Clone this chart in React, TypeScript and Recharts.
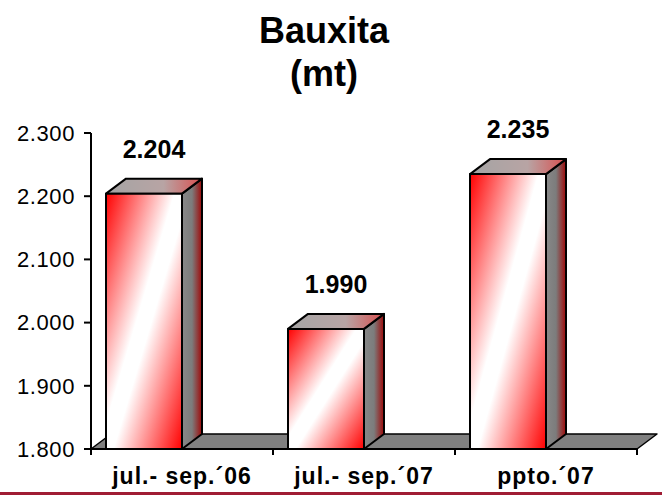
import React from 'react'
import { BarChart, Bar, XAxis, YAxis, usePlotArea } from 'recharts'

const categories = ['jul.- sep.´06', 'jul.- sep.´07', 'ppto.´07']
const values = [2204, 1990, 2235]
const yTicks = [1800, 1900, 2000, 2100, 2200, 2300]

const data = categories.map((name, i) => ({ name, value: values[i] }))

// 3d depth of the boxes
const DX = 20
const DY = 15
const FONT = '"Liberation Sans", Arial, sans-serif'

const fmt = (v: number) => (v / 1000).toFixed(3)

function Floor() {
  const plot = usePlotArea()
  if (!plot) return null
  const { x, y, width, height } = plot
  const b = y + height
  const r = x + width
  const band = width / categories.length
  return (
    <g>
      <defs>
        <linearGradient id="front" x1="0" y1="0" x2="1" y2="1">
          <stop offset="0" stopColor="#ff0000" />
          <stop offset="0.45" stopColor="#ffffff" />
          <stop offset="0.55" stopColor="#ffffff" />
          <stop offset="1" stopColor="#ff0000" />
        </linearGradient>
        <linearGradient id="side" x1="0" y1="0" x2="1" y2="0">
          <stop offset="0" stopColor="#888888" />
          <stop offset="0.5" stopColor="#7c7c7c" />
          <stop offset="1" stopColor="#a00808" />
        </linearGradient>
        <linearGradient id="top" x1="0" y1="0" x2="1" y2="0">
          <stop offset="0" stopColor="#a4a4a4" />
          <stop offset="0.6" stopColor="#b8a4a4" />
          <stop offset="1" stopColor="#d85050" />
        </linearGradient>
      </defs>
      <polygon
        points={`${x},${b} ${x + DX},${b - DY} ${r + DX},${b - DY} ${r},${b}`}
        fill="#808080"
        stroke="#000"
        strokeWidth={1.5}
        strokeLinejoin="round"
      />
      <line x1={x} y1={b} x2={r} y2={b} stroke="#000" strokeWidth={2} />
      {[0, 1, 2, 3].map((i) => (
        <line key={i} x1={x + i * band} y1={b} x2={x + i * band} y2={b + 6} stroke="#000" strokeWidth={2} />
      ))}
    </g>
  )
}

function Box(props: any) {
  const { x, y, width, height, value } = props
  const fw = width / 2
  const bot = y + height
  return (
    <g stroke="#000" strokeWidth={2} strokeLinejoin="round">
      <polygon
        points={`${x + fw},${y} ${x + fw + DX},${y - DY} ${x + fw + DX},${bot - DY} ${x + fw},${bot}`}
        fill="url(#side)"
      />
      <polygon
        points={`${x},${y} ${x + DX},${y - DY} ${x + fw + DX},${y - DY} ${x + fw},${y}`}
        fill="url(#top)"
      />
      <rect x={x} y={y} width={fw} height={height} fill="url(#front)" />
      <text
        x={x + (fw + DX) / 2}
        y={y - DY - 21}
        textAnchor="middle"
        stroke="none"
        fill="#000"
        fontFamily={FONT}
        fontWeight="bold"
        fontSize={25}
      >
        {fmt(value)}
      </text>
    </g>
  )
}

function CatTick(props: any) {
  const { x, y, payload } = props
  return (
    <text
      x={x}
      y={y}
      dy={27}
      textAnchor="middle"
      fill="#000"
      fontFamily={FONT}
      fontWeight="bold"
      fontSize={23}
      letterSpacing={1}
    >
      {payload.value}
    </text>
  )
}

export default function App() {
  return (
    <div style={{ position: 'absolute', left: 0, top: 0, width: 662, height: 497, background: '#fff' }}>
      <div
        style={{
          position: 'absolute',
          left: 0,
          width: 648,
          top: 9,
          textAlign: 'center',
          fontFamily: FONT,
          fontWeight: 'bold',
          fontSize: 36,
          lineHeight: '43px',
          color: '#000',
        }}
      >
        <div>Bauxita</div>
        <div>(mt)</div>
      </div>
      <BarChart
        width={662}
        height={497}
        data={data}
        margin={{ top: 133, right: 25, bottom: 0, left: 0 }}
        barCategoryGap={15}
        style={{ position: 'absolute', left: 0, top: 0 }}
      >
        <Floor />
        <YAxis
          domain={[1800, 2300]}
          ticks={yTicks}
          width={91}
          tickFormatter={fmt}
          axisLine={{ stroke: '#000', strokeWidth: 2 }}
          tickLine={{ stroke: '#000', strokeWidth: 2 }}
          tickSize={7}
          tickMargin={9}
          tick={{ fill: '#000', fontSize: 22, fontFamily: FONT, letterSpacing: 0.6 }}
        />
        <XAxis dataKey="name" height={48} axisLine={false} tickLine={false} tick={<CatTick />} interval={0} />
        <Bar dataKey="value" shape={<Box />} isAnimationActive={false} />
      </BarChart>
      <div style={{ position: 'absolute', left: 0, top: 492, width: 662, height: 3, background: '#a01c34' }} />
    </div>
  )
}
